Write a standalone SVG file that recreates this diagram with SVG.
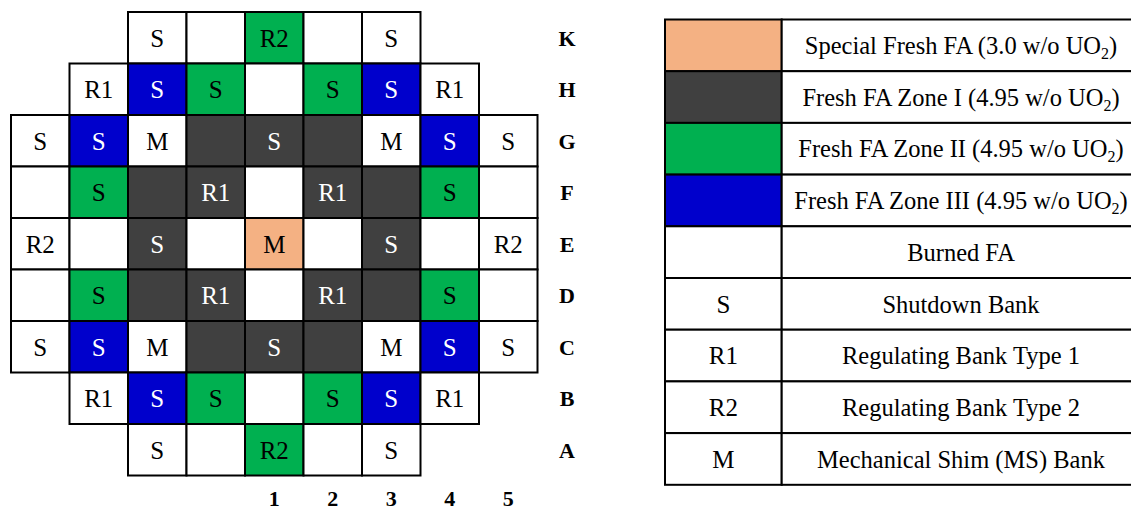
<svg xmlns="http://www.w3.org/2000/svg" width="1131" height="512" viewBox="0 0 1131 512">
<style>
rect{stroke:#000;stroke-width:2}
rect.bg{fill:#fff;stroke:none}
.w{fill:#fff}.o{fill:#F4B183}.d{fill:#404040}.g{fill:#00B050}.b{fill:#0000CC}
text{font-family:"Liberation Serif","Times New Roman",serif;text-anchor:middle}
.t{font-size:25px;fill:#000}
.tw{font-size:25px;fill:#fff}
.lab{font-size:22px;font-weight:bold;fill:#000}
.lg{font-size:24.5px;fill:#000}
</style>
<rect class="bg" x="0" y="0" width="1131" height="512"/>
<g id="core">
<g id="K3" transform="translate(128,12)"><rect class="w" width="58.5" height="51.5"/><text class="t" x="29.25" y="34.5">S</text></g>
<g id="K4" transform="translate(186.5,12)"><rect class="w" width="58.5" height="51.5"/></g>
<g id="K5" transform="translate(245,12)"><rect class="g" width="58.5" height="51.5"/><text class="t" x="29.25" y="34.5">R2</text></g>
<g id="K6" transform="translate(303.5,12)"><rect class="w" width="58.5" height="51.5"/></g>
<g id="K7" transform="translate(362,12)"><rect class="w" width="58.5" height="51.5"/><text class="t" x="29.25" y="34.5">S</text></g>
<g id="H2" transform="translate(69.5,63.5)"><rect class="w" width="58.5" height="51.5"/><text class="t" x="29.25" y="34.5">R1</text></g>
<g id="H3" transform="translate(128,63.5)"><rect class="b" width="58.5" height="51.5"/><text class="tw" x="29.25" y="34.5">S</text></g>
<g id="H4" transform="translate(186.5,63.5)"><rect class="g" width="58.5" height="51.5"/><text class="t" x="29.25" y="34.5">S</text></g>
<g id="H5" transform="translate(245,63.5)"><rect class="w" width="58.5" height="51.5"/></g>
<g id="H6" transform="translate(303.5,63.5)"><rect class="g" width="58.5" height="51.5"/><text class="t" x="29.25" y="34.5">S</text></g>
<g id="H7" transform="translate(362,63.5)"><rect class="b" width="58.5" height="51.5"/><text class="tw" x="29.25" y="34.5">S</text></g>
<g id="H8" transform="translate(420.5,63.5)"><rect class="w" width="58.5" height="51.5"/><text class="t" x="29.25" y="34.5">R1</text></g>
<g id="G1" transform="translate(11,115)"><rect class="w" width="58.5" height="51.5"/><text class="t" x="29.25" y="34.5">S</text></g>
<g id="G2" transform="translate(69.5,115)"><rect class="b" width="58.5" height="51.5"/><text class="tw" x="29.25" y="34.5">S</text></g>
<g id="G3" transform="translate(128,115)"><rect class="w" width="58.5" height="51.5"/><text class="t" x="29.25" y="34.5">M</text></g>
<g id="G4" transform="translate(186.5,115)"><rect class="d" width="58.5" height="51.5"/></g>
<g id="G5" transform="translate(245,115)"><rect class="d" width="58.5" height="51.5"/><text class="tw" x="29.25" y="34.5">S</text></g>
<g id="G6" transform="translate(303.5,115)"><rect class="d" width="58.5" height="51.5"/></g>
<g id="G7" transform="translate(362,115)"><rect class="w" width="58.5" height="51.5"/><text class="t" x="29.25" y="34.5">M</text></g>
<g id="G8" transform="translate(420.5,115)"><rect class="b" width="58.5" height="51.5"/><text class="tw" x="29.25" y="34.5">S</text></g>
<g id="G9" transform="translate(479,115)"><rect class="w" width="58.5" height="51.5"/><text class="t" x="29.25" y="34.5">S</text></g>
<g id="F1" transform="translate(11,166.5)"><rect class="w" width="58.5" height="51.5"/></g>
<g id="F2" transform="translate(69.5,166.5)"><rect class="g" width="58.5" height="51.5"/><text class="t" x="29.25" y="34.5">S</text></g>
<g id="F3" transform="translate(128,166.5)"><rect class="d" width="58.5" height="51.5"/></g>
<g id="F4" transform="translate(186.5,166.5)"><rect class="d" width="58.5" height="51.5"/><text class="tw" x="29.25" y="34.5">R1</text></g>
<g id="F5" transform="translate(245,166.5)"><rect class="w" width="58.5" height="51.5"/></g>
<g id="F6" transform="translate(303.5,166.5)"><rect class="d" width="58.5" height="51.5"/><text class="tw" x="29.25" y="34.5">R1</text></g>
<g id="F7" transform="translate(362,166.5)"><rect class="d" width="58.5" height="51.5"/></g>
<g id="F8" transform="translate(420.5,166.5)"><rect class="g" width="58.5" height="51.5"/><text class="t" x="29.25" y="34.5">S</text></g>
<g id="F9" transform="translate(479,166.5)"><rect class="w" width="58.5" height="51.5"/></g>
<g id="E1" transform="translate(11,218)"><rect class="w" width="58.5" height="51.5"/><text class="t" x="29.25" y="34.5">R2</text></g>
<g id="E2" transform="translate(69.5,218)"><rect class="w" width="58.5" height="51.5"/></g>
<g id="E3" transform="translate(128,218)"><rect class="d" width="58.5" height="51.5"/><text class="tw" x="29.25" y="34.5">S</text></g>
<g id="E4" transform="translate(186.5,218)"><rect class="w" width="58.5" height="51.5"/></g>
<g id="E5" transform="translate(245,218)"><rect class="o" width="58.5" height="51.5"/><text class="t" x="29.25" y="34.5">M</text></g>
<g id="E6" transform="translate(303.5,218)"><rect class="w" width="58.5" height="51.5"/></g>
<g id="E7" transform="translate(362,218)"><rect class="d" width="58.5" height="51.5"/><text class="tw" x="29.25" y="34.5">S</text></g>
<g id="E8" transform="translate(420.5,218)"><rect class="w" width="58.5" height="51.5"/></g>
<g id="E9" transform="translate(479,218)"><rect class="w" width="58.5" height="51.5"/><text class="t" x="29.25" y="34.5">R2</text></g>
<g id="D1" transform="translate(11,269.5)"><rect class="w" width="58.5" height="51.5"/></g>
<g id="D2" transform="translate(69.5,269.5)"><rect class="g" width="58.5" height="51.5"/><text class="t" x="29.25" y="34.5">S</text></g>
<g id="D3" transform="translate(128,269.5)"><rect class="d" width="58.5" height="51.5"/></g>
<g id="D4" transform="translate(186.5,269.5)"><rect class="d" width="58.5" height="51.5"/><text class="tw" x="29.25" y="34.5">R1</text></g>
<g id="D5" transform="translate(245,269.5)"><rect class="w" width="58.5" height="51.5"/></g>
<g id="D6" transform="translate(303.5,269.5)"><rect class="d" width="58.5" height="51.5"/><text class="tw" x="29.25" y="34.5">R1</text></g>
<g id="D7" transform="translate(362,269.5)"><rect class="d" width="58.5" height="51.5"/></g>
<g id="D8" transform="translate(420.5,269.5)"><rect class="g" width="58.5" height="51.5"/><text class="t" x="29.25" y="34.5">S</text></g>
<g id="D9" transform="translate(479,269.5)"><rect class="w" width="58.5" height="51.5"/></g>
<g id="C1" transform="translate(11,321)"><rect class="w" width="58.5" height="51.5"/><text class="t" x="29.25" y="34.5">S</text></g>
<g id="C2" transform="translate(69.5,321)"><rect class="b" width="58.5" height="51.5"/><text class="tw" x="29.25" y="34.5">S</text></g>
<g id="C3" transform="translate(128,321)"><rect class="w" width="58.5" height="51.5"/><text class="t" x="29.25" y="34.5">M</text></g>
<g id="C4" transform="translate(186.5,321)"><rect class="d" width="58.5" height="51.5"/></g>
<g id="C5" transform="translate(245,321)"><rect class="d" width="58.5" height="51.5"/><text class="tw" x="29.25" y="34.5">S</text></g>
<g id="C6" transform="translate(303.5,321)"><rect class="d" width="58.5" height="51.5"/></g>
<g id="C7" transform="translate(362,321)"><rect class="w" width="58.5" height="51.5"/><text class="t" x="29.25" y="34.5">M</text></g>
<g id="C8" transform="translate(420.5,321)"><rect class="b" width="58.5" height="51.5"/><text class="tw" x="29.25" y="34.5">S</text></g>
<g id="C9" transform="translate(479,321)"><rect class="w" width="58.5" height="51.5"/><text class="t" x="29.25" y="34.5">S</text></g>
<g id="B2" transform="translate(69.5,372.5)"><rect class="w" width="58.5" height="51.5"/><text class="t" x="29.25" y="34.5">R1</text></g>
<g id="B3" transform="translate(128,372.5)"><rect class="b" width="58.5" height="51.5"/><text class="tw" x="29.25" y="34.5">S</text></g>
<g id="B4" transform="translate(186.5,372.5)"><rect class="g" width="58.5" height="51.5"/><text class="t" x="29.25" y="34.5">S</text></g>
<g id="B5" transform="translate(245,372.5)"><rect class="w" width="58.5" height="51.5"/></g>
<g id="B6" transform="translate(303.5,372.5)"><rect class="g" width="58.5" height="51.5"/><text class="t" x="29.25" y="34.5">S</text></g>
<g id="B7" transform="translate(362,372.5)"><rect class="b" width="58.5" height="51.5"/><text class="tw" x="29.25" y="34.5">S</text></g>
<g id="B8" transform="translate(420.5,372.5)"><rect class="w" width="58.5" height="51.5"/><text class="t" x="29.25" y="34.5">R1</text></g>
<g id="A3" transform="translate(128,424)"><rect class="w" width="58.5" height="51.5"/><text class="t" x="29.25" y="34.5">S</text></g>
<g id="A4" transform="translate(186.5,424)"><rect class="w" width="58.5" height="51.5"/></g>
<g id="A5" transform="translate(245,424)"><rect class="g" width="58.5" height="51.5"/><text class="t" x="29.25" y="34.5">R2</text></g>
<g id="A6" transform="translate(303.5,424)"><rect class="w" width="58.5" height="51.5"/></g>
<g id="A7" transform="translate(362,424)"><rect class="w" width="58.5" height="51.5"/><text class="t" x="29.25" y="34.5">S</text></g>
</g>
<g id="row-labels">
<text class="lab" x="567" y="45.5">K</text>
<text class="lab" x="567" y="97">H</text>
<text class="lab" x="567" y="148.5">G</text>
<text class="lab" x="567" y="200">F</text>
<text class="lab" x="567" y="251.5">E</text>
<text class="lab" x="567" y="303">D</text>
<text class="lab" x="567" y="354.5">C</text>
<text class="lab" x="567" y="406">B</text>
<text class="lab" x="567" y="457.5">A</text>
</g>
<g id="col-labels">
<text class="lab" x="274.25" y="506">1</text>
<text class="lab" x="332.75" y="506">2</text>
<text class="lab" x="391.25" y="506">3</text>
<text class="lab" x="449.75" y="506">4</text>
<text class="lab" x="508.25" y="506">5</text>
</g>
<g id="legend">
<g id="lg1" transform="translate(665,19.5)"><rect class="o" width="116.7" height="51.7"/><rect class="w" x="116.7" width="360" height="51.7"/><text class="lg" x="296" y="34.5">Special Fresh FA (3.0 w/o UO<tspan font-size="16" dy="5">2</tspan><tspan dy="-5">)</tspan></text></g>
<g id="lg2" transform="translate(665,71.2)"><rect class="d" width="116.7" height="51.7"/><rect class="w" x="116.7" width="360" height="51.7"/><text class="lg" x="296" y="34.5">Fresh FA Zone I (4.95 w/o UO<tspan font-size="16" dy="5">2</tspan><tspan dy="-5">)</tspan></text></g>
<g id="lg3" transform="translate(665,122.9)"><rect class="g" width="116.7" height="51.7"/><rect class="w" x="116.7" width="360" height="51.7"/><text class="lg" x="296" y="34.5">Fresh FA Zone II (4.95 w/o UO<tspan font-size="16" dy="5">2</tspan><tspan dy="-5">)</tspan></text></g>
<g id="lg4" transform="translate(665,174.6)"><rect class="b" width="116.7" height="51.7"/><rect class="w" x="116.7" width="360" height="51.7"/><text class="lg" x="296" y="34.5">Fresh FA Zone III (4.95 w/o UO<tspan font-size="16" dy="5">2</tspan><tspan dy="-5">)</tspan></text></g>
<g id="lg5" transform="translate(665,226.3)"><rect class="w" width="116.7" height="51.7"/><rect class="w" x="116.7" width="360" height="51.7"/><text class="lg" x="296" y="34.5">Burned FA</text></g>
<g id="lg6" transform="translate(665,278)"><rect class="w" width="116.7" height="51.7"/><text class="t" x="58.35" y="34.5">S</text><rect class="w" x="116.7" width="360" height="51.7"/><text class="lg" x="296" y="34.5">Shutdown Bank</text></g>
<g id="lg7" transform="translate(665,329.7)"><rect class="w" width="116.7" height="51.7"/><text class="t" x="58.35" y="34.5">R1</text><rect class="w" x="116.7" width="360" height="51.7"/><text class="lg" x="296" y="34.5">Regulating Bank Type 1</text></g>
<g id="lg8" transform="translate(665,381.4)"><rect class="w" width="116.7" height="51.7"/><text class="t" x="58.35" y="34.5">R2</text><rect class="w" x="116.7" width="360" height="51.7"/><text class="lg" x="296" y="34.5">Regulating Bank Type 2</text></g>
<g id="lg9" transform="translate(665,433.1)"><rect class="w" width="116.7" height="51.7"/><text class="t" x="58.35" y="34.5">M</text><rect class="w" x="116.7" width="360" height="51.7"/><text class="lg" x="296" y="34.5">Mechanical Shim (MS) Bank</text></g>
</g>
</svg>
